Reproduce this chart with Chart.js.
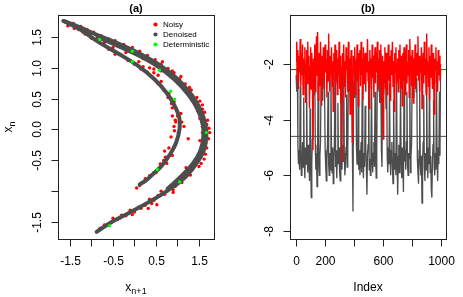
<!DOCTYPE html>
<html>
<head>
<meta charset="utf-8">
<script src="https://cdn.jsdelivr.net/npm/chart.js@4/dist/chart.umd.min.js"></script>
<style>
html, body { margin: 0; padding: 0; background: #fff; }
#wrap { position: relative; width: 463px; height: 297px; overflow: hidden; }
canvas { position: absolute; top: 0; }
</style>
</head>
<body>
<div id="wrap">
  <canvas id="pa" width="231" height="297" style="left:0px"></canvas>
  <canvas id="pb" width="232" height="297" style="left:231px"></canvas>
</div>
<script>
// ---- panel (a): attractor, x_{n+1} against x_n ----
const denoisedOuter = [
  [-1.65, 1.76], [-1.28, 1.66], [-0.86, 1.53], [-0.40, 1.40], [0.07, 1.25], [0.53, 1.07],
  [0.95, 0.85], [1.30, 0.59], [1.53, 0.33], [1.65, 0.08], [1.67, -0.13], [1.60, -0.36],
  [1.42, -0.57], [1.14, -0.80], [0.77, -0.99], [0.35, -1.17], [-0.12, -1.35], [-0.53, -1.50],
  [-0.88, -1.66]
];
const denoisedOuter2 = [
  [-0.86, 1.50], [-0.40, 1.36], [0.07, 1.21], [0.53, 1.03], [0.93, 0.81], [1.26, 0.56],
  [1.48, 0.31], [1.59, 0.07], [1.60, -0.13], [1.53, -0.35], [1.36, -0.55], [1.10, -0.75],
  [0.77, -0.96]
];
const denoisedInner = [
  [-1.65, 1.76], [-1.28, 1.63], [-0.86, 1.43], [-0.40, 1.24], [0.07, 1.04], [0.47, 0.81],
  [0.74, 0.60], [0.93, 0.39], [1.04, 0.20], [1.05, 0.02], [0.97, -0.21], [0.82, -0.41],
  [0.63, -0.59], [0.42, -0.73], [0.26, -0.83], [0.12, -0.89]
];
const noisyPts = [
  [-1.60, 1.75], [-1.50, 1.71], [-1.42, 1.72], [-1.35, 1.66], [-1.25, 1.67], [-1.18, 1.60],
  [-1.10, 1.62], [-1.02, 1.56], [-0.95, 1.58], [-0.85, 1.50], [-0.78, 1.52], [-0.70, 1.45],
  [-0.60, 1.47], [-0.52, 1.40], [-0.45, 1.44], [-0.35, 1.36], [-0.25, 1.38], [-0.15, 1.30],
  [-0.05, 1.33], [0.05, 1.22], [0.12, 1.27], [0.22, 1.18], [0.30, 1.20], [0.40, 1.10],
  [0.48, 1.13], [0.55, 1.02], [0.62, 1.06], [0.70, 0.97], [0.78, 0.99], [0.85, 0.88],
  [0.92, 0.92], [0.98, 0.80], [1.05, 0.82], [1.12, 0.70], [1.18, 0.74], [1.25, 0.62],
  [1.32, 0.64], [1.38, 0.50], [1.45, 0.52], [1.50, 0.38], [1.58, 0.40], [1.55, 0.25],
  [1.63, 0.28], [1.60, 0.12], [1.70, 0.15], [1.65, 0.00], [1.73, 0.02], [1.62, -0.10],
  [1.72, -0.15], [1.58, -0.25], [1.68, -0.30], [1.55, -0.40], [1.62, -0.48], [1.45, -0.52],
  [1.50, -0.60], [1.35, -0.65], [1.30, -0.74], [1.18, -0.77], [1.10, -0.86], [1.00, -0.88],
  [0.90, -0.98], [0.80, -0.96], [0.70, -1.05], [0.55, -1.07], [0.45, -1.15], [0.35, -1.13],
  [0.25, -1.23], [0.32, -1.28], [0.10, -1.26], [0.00, -1.34], [-0.10, -1.31], [-0.20, -1.40],
  [-0.30, -1.39], [-0.40, -1.46], [-0.50, -1.44], [-0.60, -1.54], [-0.70, -1.55], [-0.80, -1.60],
  [-1.40, 1.64], [-1.20, 1.58], [-1.00, 1.48], [-0.80, 1.40], [-0.60, 1.30], [-0.45, 1.22],
  [-0.30, 1.20], [-0.15, 1.12], [0.00, 1.06], [0.15, 0.98], [0.20, 1.02], [0.30, 0.93],
  [0.40, 0.86], [0.45, 0.92], [0.55, 0.74], [0.62, 0.78], [0.68, 0.64], [0.80, 0.58],
  [0.85, 0.50], [0.92, 0.45], [0.88, 0.35], [0.98, 0.30], [0.88, 0.22], [0.96, 0.12],
  [1.08, 0.26], [0.92, 0.05], [1.02, -0.05], [0.85, -0.12], [0.95, -0.25], [0.80, -0.30],
  [0.88, -0.42], [0.72, -0.45], [0.75, -0.55], [0.60, -0.56], [0.55, -0.65], [0.45, -0.70],
  [0.35, -0.75], [0.25, -0.80], [0.20, -0.86], [0.12, -0.91], [0.05, -0.95],
  [0.45, 0.98], [1.15, 0.05], [1.25, -0.15], [0.52, -1.22], [0.90, -1.02], [1.20, -0.62],
  [0.65, 1.10], [0.75, 0.92], [0.88, 0.95], [1.00, 0.76], [1.08, 0.86], [1.20, 0.66],
  [1.28, 0.68], [1.35, 0.55], [1.42, 0.44], [1.52, 0.46], [1.47, 0.30], [1.58, 0.33],
  [1.60, 0.20], [1.52, 0.18], [1.68, 0.08], [1.58, 0.05], [1.75, -0.05], [1.58, -0.05],
  [1.66, -0.22], [1.52, -0.18], [1.65, -0.40], [1.48, -0.42], [1.40, -0.58], [1.55, -0.55],
  [1.25, -0.70], [1.05, -0.78], [0.95, -0.92], [0.62, -1.00], [0.40, -1.20], [0.15, -1.28],
  [-0.05, -1.38], [-0.35, -1.44], [-0.65, -1.55],
  [0.95, 0.15], [1.00, 0.22], [0.93, -0.02], [1.10, 0.12], [0.86, 0.42], [0.78, 0.52],
  [0.70, -0.35], [0.68, -0.50], [0.50, -0.70],
  [-1.55, 1.68], [-1.30, 1.62], [-1.15, 1.55], [-0.90, 1.46], [-0.70, 1.41], [-0.50, 1.33],
  [-0.20, 1.25], [0.10, 1.10], [0.35, 1.00], [0.55, 0.88], [0.20, 1.15], [0.62, 0.95]
];
const deterministicPts = [
  [-0.81, 1.46], [-0.05, 1.27], [-0.05, 1.10], [0.58, 0.96], [0.84, 0.62], [0.93, 0.49],
  [1.67, -0.05], [0.53, -0.65], [1.05, -0.85], [-0.58, -1.56]
];
const aTicksX = [-1.5, -1, -0.5, 0, 0.5, 1, 1.5];
const aLabelsX = ['-1.5', '', '-0.5', '', '0.5', '', '1.5'];
const aTicksY = [-1.5, -1, -0.5, 0, 0.5, 1, 1.5];
const aLabelsY = ['-1.5', '', '-0.5', '0.0', '0.5', '1.0', '1.5'];

// ---- panel (b): two series against Index ----
const redSeries = [
  -1.9, -1.2, -2.6, -1.5, -2.9, -1.7, -2.3, -1.1, -2.8, -1.6,
  -2.4, -1.3, -3.1, -1.8, -2.2, -1.4, -3.4, -2.0, -1.5, -2.7,
  -1.2, -2.5, -1.7, -3.6, -2.1, -1.4, -2.9, -1.6, -2.3, -5.1,
  -1.8, -2.6, -1.3, -3.0, -1.9, -1.0, -2.4, -0.85, -3.3, -2.0,
  -1.6, -2.8, -1.2, -2.2, -3.5, -1.7, -2.5, -1.4, -2.9, -1.9,
  -1.3, -2.3, -1.8, -3.2, -1.5, -2.6, -0.9, -2.1, -3.0, -1.7,
  -2.4, -1.4, -2.8, -1.9, -3.7, -1.6, -2.2, -1.3, -2.7, -2.0,
  -1.5, -3.1, -1.8, -2.4, -1.2, -2.9, -1.7, -3.4, -2.1, -5.5,
  -1.6, -2.5, -1.3, -2.8, -1.9, -3.2, -1.4, -2.2, -1.7, -3.0,
  -1.2, -2.6, -1.8, -3.8, -2.0, -1.5, -2.4, -4.8, -2.9, -1.7,
  -2.3, -1.4, -3.1, -1.9, -2.6, -1.3, -2.2, -3.5, -1.6, -2.0,
  -1.5, -2.8, -1.2, -2.4, -1.8, -3.3, -1.4, -2.7, -2.0, -1.6,
  -3.0, -1.7, -2.3, -1.1, -2.6, -1.9, -3.6, -1.5, -2.2, -1.8,
  -2.9, -1.3, -2.5, -1.7, -3.2, -2.0, -1.4, -2.7, -1.6, -2.3,
  -1.2, -3.0, -1.8, -2.4, -1.5, -2.8, -1.3, -3.4, -2.1, -1.7,
  -4.7, -1.9, -2.5, -1.4, -2.9, -1.6, -2.2, -3.1, -1.8, -1.3,
  -2.6, -1.7, -3.3, -2.0, -1.5, -2.4, -1.2, -2.8, -1.9, -3.7,
  -1.6, -2.3, -1.4, -2.7, -2.0, -1.8, -3.0, -1.5, -2.5, -1.3,
  -2.9, -1.7, -2.2, -3.5, -1.6, -2.6, -1.4, -2.0, -3.1, -1.8,
  -1.3, -2.7, -1.9, -2.4, -1.5, -3.2, -1.1, -2.3, -1.7, -2.8,
  -1.5, -2.1, -3.4, -1.8, -2.5, -1.3, -2.9, -2.0, -1.6, -2.4,
  -1.0, -2.6, -1.7, -3.0, -1.9, -2.3, -1.4, -3.6, -2.1, -1.6,
  -2.7, -1.2, -2.4, -1.8, -3.1, -0.9, -2.2, -1.9, -2.8, -1.4,
  -3.3, -1.7, -2.5, -1.3, -2.0, -2.9, -1.6, -2.3, -3.8, -1.8,
  -2.2, -1.4, -2.7, -1.9, -3.0, -1.5, -2.4, -1.7, -2.6, -2.0
];
const graySeries = [
  -2.4, -3.0, -1.9, -4.9, -5.6, -5.1, -5.8, -2.8, -5.3, -6.0,
  -5.4, -4.8, -5.7, -3.2, -5.5, -6.1, -5.0, -5.6, -2.5, -5.2,
  -5.9, -4.9, -5.4, -6.2, -3.6, -5.3, -6.8, -5.5, -4.7, -2.9,
  -2.2, -3.1, -1.8, -4.9, -5.8, -5.2, -6.4, -5.0, -2.6, -5.5,
  -6.0, -5.3, -4.8, -2.4, -1.9, -3.3, -2.1, -2.7, -1.6, -2.9,
  -5.1, -5.7, -6.2, -5.4, -4.9, -3.0, -5.6, -6.0, -5.2, -5.8,
  -2.3, -5.3, -5.9, -5.0, -6.3, -5.5, -4.8, -2.0, -5.7, -5.1,
  -6.1, -5.4, -3.4, -5.6, -5.0, -5.9, -6.2, -2.6, -5.3, -5.8,
  -4.9, -5.5, -2.2, -5.2, -6.0, -5.6, -5.0, -3.1, -5.7, -5.3,
  -2.5, -1.9, -3.0, -2.2, -2.8, -1.7, -2.4, -5.2, -7.3, -2.6,
  -3.2, -2.0, -2.7, -1.8, -5.0, -5.6, -5.3, -2.9, -5.8, -5.1,
  -6.0, -5.4, -4.8, -5.9, -2.3, -5.5, -6.1, -5.2, -5.7, -3.5,
  -5.0, -5.6, -6.7, -5.3, -4.9, -2.1, -5.8, -5.4, -6.0, -5.1,
  -2.8, -5.5, -5.9, -5.2, -4.8, -5.7, -3.0, -5.3, -6.1, -5.0,
  -2.4, -1.8, -2.9, -2.2, -3.4, -1.6, -2.6, -5.1, -5.7, -2.3,
  -2.0, -3.1, -1.9, -2.7, -2.2, -3.6, -2.5, -5.3, -5.9, -5.0,
  -5.6, -2.7, -5.4, -6.0, -5.1, -4.8, -5.7, -6.3, -3.3, -5.2,
  -5.8, -5.5, -6.0, -2.1, -5.3, -6.7, -5.6, -4.9, -5.9, -5.2,
  -2.9, -5.4, -6.1, -5.0, -5.7, -6.6, -2.4, -5.5, -5.1, -5.8,
  -4.8, -3.0, -5.6, -6.0, -5.2, -5.4, -2.2, -5.9, -5.3, -4.9,
  -2.6, -1.8, -3.2, -2.0, -2.8, -2.3, -1.7, -3.0, -2.5, -5.4,
  -5.9, -6.3, -5.1, -2.7, -5.6, -6.0, -5.3, -7.0, -5.5, -4.8,
  -3.1, -5.7, -6.2, -5.2, -5.8, -2.4, -5.4, -6.1, -5.0, -5.6,
  -2.0, -5.9, -5.3, -6.5, -6.8, -5.5, -4.9, -3.3, -5.7, -6.0,
  -5.2, -5.8, -2.6, -5.4, -6.2, -5.0, -5.6, -3.0, -5.3, -2.2
];
const indexStep = 4;
const redLevel = -2.2;
const grayLevel = -4.6;
const bTicksX = [0, 200, 400, 600, 800, 1000];
const bLabelsX = ['0', '200', '', '600', '', '1000'];
const bTicksY = [-8, -6, -4, -2];
const bLabelsY = ['-8', '-6', '-4', '-2'];

const FONT = '"Liberation Sans", Arial, Helvetica, sans-serif';
const DARK = '#4d4d4d';

function toXY(pairs) { return pairs.map(p => ({ x: p[0], y: p[1] })); }

// draws R-style frame, ticks, labels and titles
function rAxes(cfg) {
  return {
    id: 'rAxes',
    afterDraw(chart) {
      const ctx = chart.ctx, a = chart.chartArea;
      const sx = chart.scales.x, sy = chart.scales.y;
      ctx.save();
      ctx.strokeStyle = '#222';
      ctx.lineWidth = 1;
      ctx.strokeRect(a.left + 0.5, a.top + 0.5, a.right - a.left, a.bottom - a.top);
      ctx.fillStyle = '#000';
      ctx.font = '12px ' + FONT;
      ctx.textAlign = 'center';
      ctx.textBaseline = 'middle';
      cfg.ticksX.forEach((v, i) => {
        const px = Math.round(sx.getPixelForValue(v)) + 0.5;
        ctx.beginPath();
        ctx.moveTo(px, a.bottom + 0.5);
        ctx.lineTo(px, a.bottom + 7.5);
        ctx.stroke();
        if (cfg.labelsX[i]) ctx.fillText(cfg.labelsX[i], px, a.bottom + 23);
      });
      cfg.ticksY.forEach((v, i) => {
        const py = Math.round(sy.getPixelForValue(v)) + 0.5;
        ctx.beginPath();
        ctx.moveTo(a.left + 0.5, py);
        ctx.lineTo(a.left - 6.5, py);
        ctx.stroke();
        if (cfg.labelsY[i]) {
          ctx.save();
          ctx.translate(a.left - 20.5, py);
          ctx.rotate(-Math.PI / 2);
          ctx.fillText(cfg.labelsY[i], 0, 0);
          ctx.restore();
        }
      });
      const cx = (a.left + a.right) / 2;
      ctx.font = 'bold 11px ' + FONT;
      ctx.fillText(cfg.title, cx, 8.5);
      // x axis title
      drawSub(ctx, cfg.xMain, cfg.xSub, cx, 288, 0);
      if (cfg.yMain) drawSub(ctx, cfg.yMain, cfg.ySub, 9, (a.top + a.bottom) / 2, -Math.PI / 2);
      if (cfg.legend) {
        ctx.font = '8px ' + FONT;
        ctx.textAlign = 'left';
        cfg.legend.forEach((it, i) => {
          const y = 24.5 + i * 10;
          ctx.fillStyle = it.color;
          ctx.beginPath();
          ctx.arc(155.5, y, 2.1, 0, Math.PI * 2);
          ctx.fill();
          ctx.fillStyle = '#000';
          ctx.fillText(it.text, 163, y + 0.5);
        });
      }
      ctx.restore();
    }
  };
}

function drawSub(ctx, main, sub, x, y, rot) {
  ctx.save();
  ctx.translate(x, y);
  ctx.rotate(rot);
  ctx.font = '12px ' + FONT;
  const w1 = ctx.measureText(main).width;
  ctx.font = '9px ' + FONT;
  const w2 = sub ? ctx.measureText(sub).width : 0;
  const x0 = -(w1 + w2) / 2;
  ctx.textAlign = 'left';
  ctx.textBaseline = 'alphabetic';
  ctx.fillStyle = '#000';
  ctx.font = '12px ' + FONT;
  ctx.fillText(main, x0, 3);
  if (sub) {
    ctx.font = '9px ' + FONT;
    ctx.fillText(sub, x0 + w1, 6);
  }
  ctx.restore();
}

const lineBand = (pairs) => ({
  type: 'line', data: toXY(pairs), showLine: true, borderColor: DARK, borderWidth: 4,
  pointRadius: 0, tension: 0.4, borderCapStyle: 'round', borderJoinStyle: 'round',
  fill: false, order: 2
});

new Chart(document.getElementById('pa'), {
  type: 'scatter',
  data: {
    datasets: [
      { data: toXY(deterministicPts), backgroundColor: '#00ff00', pointRadius: 1.7, pointBorderWidth: 0, order: 0 },
      lineBand(denoisedOuter),
      lineBand(denoisedOuter2),
      lineBand(denoisedInner),
      { data: toXY(noisyPts), backgroundColor: '#ff0000', pointRadius: 1.7, pointBorderWidth: 0, order: 3 }
    ]
  },
  options: {
    responsive: false, animation: false, devicePixelRatio: 1,
    layout: { padding: { left: 58, top: 15, right: 17, bottom: 58 } },
    plugins: { legend: { display: false }, tooltip: { enabled: false } },
    scales: {
      x: { type: 'linear', display: false, min: -1.779, max: 1.849 },
      y: { type: 'linear', display: false, min: -1.776, max: 1.857 }
    }
  },
  plugins: [rAxes({
    ticksX: aTicksX, labelsX: aLabelsX, ticksY: aTicksY, labelsY: aLabelsY,
    title: '(a)', xMain: 'x', xSub: 'n+1', yMain: 'x', ySub: 'n',
    legend: [
      { text: 'Noisy', color: '#ff0000' },
      { text: 'Denoised', color: DARK },
      { text: 'Deterministic', color: '#00ff00' }
    ]
  })]
});

const bMin = -41.4, bMax = 1034.5;
new Chart(document.getElementById('pb'), {
  type: 'line',
  data: {
    datasets: [
      { data: [{ x: bMin, y: grayLevel }, { x: bMax, y: grayLevel }], borderColor: DARK, borderWidth: 1, pointRadius: 0, order: 0 },
      { data: [{ x: bMin, y: redLevel }, { x: bMax, y: redLevel }], borderColor: '#ff0000', borderWidth: 1, pointRadius: 0, order: 1 },
      { data: redSeries.map((v, k) => ({ x: k * indexStep + 1, y: v })), borderColor: '#ff0000', borderWidth: 1.4, pointRadius: 0, order: 2 },
      { data: graySeries.map((v, k) => ({ x: k * indexStep + 1, y: v })), borderColor: DARK, borderWidth: 1.3, pointRadius: 0, order: 3 }
    ]
  },
  options: {
    responsive: false, animation: false, devicePixelRatio: 1,
    layout: { padding: { left: 59, top: 15, right: 17, bottom: 58 } },
    plugins: { legend: { display: false }, tooltip: { enabled: false } },
    scales: {
      x: { type: 'linear', display: false, min: bMin, max: bMax },
      y: { type: 'linear', display: false, min: -8.287, max: -0.239 }
    }
  },
  plugins: [rAxes({
    ticksX: bTicksX, labelsX: bLabelsX, ticksY: bTicksY, labelsY: bLabelsY,
    title: '(b)', xMain: 'Index', xSub: ''
  })]
});
</script>
</body>
</html>
